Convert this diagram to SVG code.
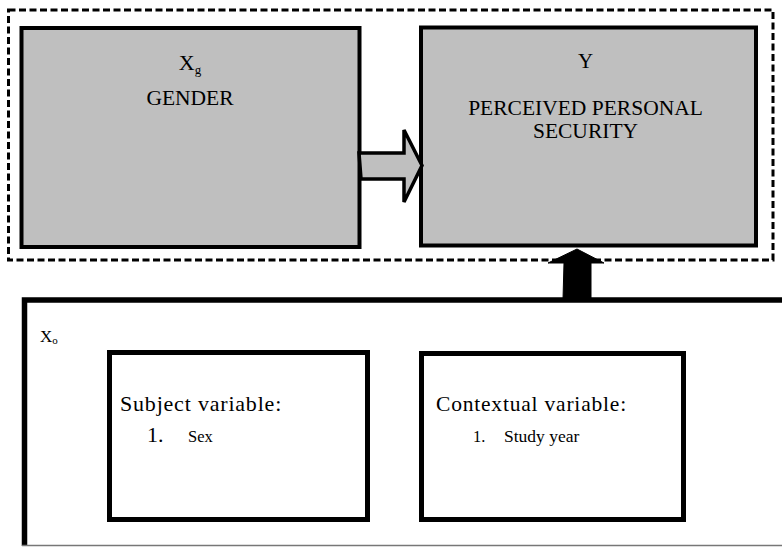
<svg xmlns="http://www.w3.org/2000/svg" width="782" height="547" viewBox="0 0 782 547">
  <style>
    .t { font-family: "Liberation Serif", "Times New Roman", serif; fill: #000; }
    .gray { fill: #bfbfbf; stroke: #000; stroke-width: 4; }
    .white { fill: #fff; stroke: #000; stroke-width: 5; }
  </style>
  <rect width="782" height="547" fill="#fff"/>

  <!-- dashed grouping border -->
  <g id="group-border">
    <rect x="8.5" y="10" width="764.5" height="250" fill="none" stroke="#000" stroke-width="3" stroke-dasharray="7 3.5"/>
  </g>

  <!-- Xg GENDER -->
  <g id="node-gender">
    <rect class="gray" x="21.5" y="28" width="338" height="219"/>
    <text class="t" x="190" y="70" font-size="22" text-anchor="middle">X<tspan font-size="13" dy="4">g</tspan></text>
    <text class="t" x="190" y="105" font-size="21.5" text-anchor="middle">GENDER</text>
  </g>

  <!-- Y PERCEIVED PERSONAL SECURITY -->
  <g id="node-y">
    <rect class="gray" x="421" y="27.5" width="335" height="218"/>
    <text class="t" x="585.5" y="68" font-size="21" text-anchor="middle">Y</text>
    <text class="t" x="585.5" y="115" font-size="21.5" text-anchor="middle">PERCEIVED PERSONAL</text>
    <text class="t" x="585.5" y="138" font-size="21.5" text-anchor="middle">SECURITY</text>
  </g>

  <!-- Xo container -->
  <g id="node-xo">
    <path d="M24.5 546 V300 H782" fill="none" stroke="#000" stroke-width="5.5"/>
    <line x1="22" y1="545.5" x2="782" y2="545.5" stroke="#777" stroke-width="1.5"/>
    <text class="t" x="40" y="342" font-size="17">X<tspan font-size="11" dy="2">o</tspan></text>
  </g>

  <!-- Subject variable box -->
  <g id="node-subject">
    <rect class="white" x="109.5" y="352.5" width="258" height="167"/>
    <text class="t" x="120" y="411" font-size="22" letter-spacing="0.8">Subject variable:</text>
    <text class="t" x="147" y="442" font-size="22">1.</text>
    <text class="t" x="188" y="442" font-size="16.5">Sex</text>
  </g>

  <!-- Contextual variable box -->
  <g id="node-contextual">
    <rect class="white" x="421.5" y="353.5" width="262" height="166"/>
    <text class="t" x="436" y="411" font-size="21.5" letter-spacing="0.8">Contextual variable:</text>
    <text class="t" x="473" y="442" font-size="16.5">1.</text>
    <text class="t" x="504" y="442" font-size="17.5">Study year</text>
  </g>

  <!-- connectors -->
  <g id="connectors">
    <polygon points="359,153 404,153 404,130 422,165.5 404,202 404,179 361,179" fill="#bfbfbf" stroke="#000" stroke-width="3.5" stroke-linejoin="miter"/>
    <polygon points="577,249 604,263 591,263 591,299 563,299 564,263 548,263" fill="#000" stroke="#000" stroke-width="1"/>
  </g>
</svg>
